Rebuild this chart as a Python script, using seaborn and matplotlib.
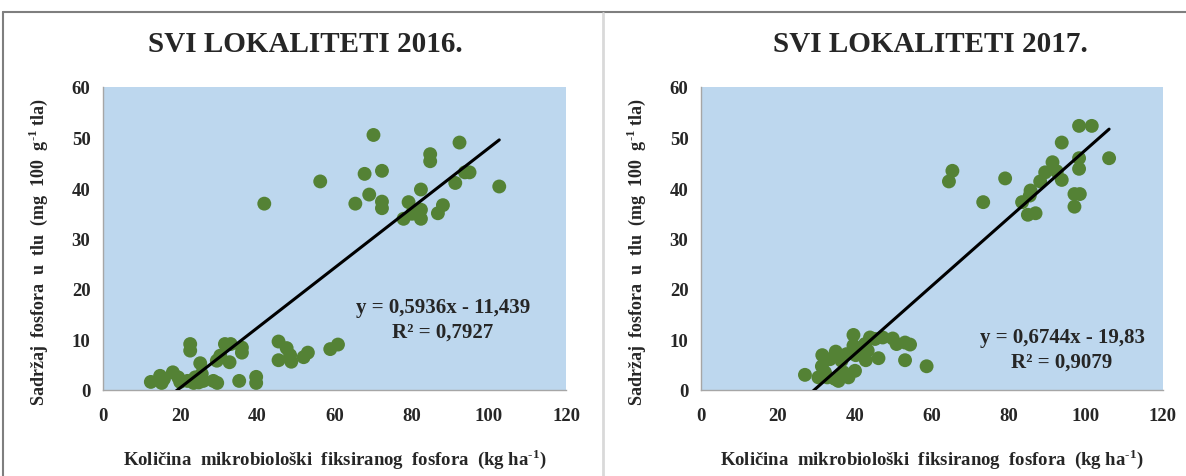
import numpy as np
import pandas as pd
import matplotlib
import matplotlib.pyplot as plt
from matplotlib.lines import Line2D
import seaborn as sns

matplotlib.use('Agg')

# ===========================================================
# DATA
# ===========================================================
x_2016 = [70.1, 92.4, 84.8, 84.8, 67.8, 72.3, 93.8, 95.0, 56.3, 102.7, 91.3, 82.4,
          41.8, 69.0, 65.4, 72.3, 72.3, 79.2, 82.4, 80.1, 77.9, 82.4, 86.8, 88.1,
          22.6, 22.6, 31.6, 33.1, 36.0, 36.0, 30.4, 29.5, 32.8, 25.2, 45.5, 47.6,
          48.5, 45.5, 48.8, 52.0, 53.1, 58.9, 60.9, 35.3, 39.7, 39.7, 12.4, 14.8,
          15.2, 15.8, 18.1, 19.5, 20.0, 21.9, 23.9, 23.5, 25.6, 26.0, 28.6, 29.6, 24.8]
y_2016 = [50.5, 49.0, 46.7, 45.3, 42.8, 43.4, 43.1, 43.1, 41.3, 40.3, 41.0, 39.7,
          36.9, 38.7, 36.9, 37.3, 36.0, 37.2, 35.7, 34.9, 33.9, 33.9, 35.0, 36.6,
          9.1, 7.8, 9.1, 9.1, 8.4, 7.4, 6.8, 5.8, 5.5, 5.3, 9.6, 8.3,
          6.9, 5.9, 5.6, 6.5, 7.4, 8.1, 9.0, 1.8, 2.6, 1.4, 1.6, 2.8,
          1.4, 2.2, 3.5, 2.5, 1.6, 1.8, 2.5, 1.4, 3.2, 1.8, 1.8, 1.4, 1.5]

x_2017 = [98.2, 101.5, 93.7, 98.2, 106.0, 91.3, 89.4, 92.4, 98.2, 65.3, 64.4, 79.0,
          88.1, 93.7, 85.6, 85.4, 83.4, 73.3, 97.0, 98.4, 97.0, 84.9, 86.9,
          39.6, 43.9, 47.2, 49.8, 50.8, 53.0, 54.3, 39.6, 42.6, 45.2, 43.3, 37.8,
          40.2, 35.0, 31.5, 33.5, 36.5, 42.8, 46.1, 53.0, 58.6, 31.4, 32.2, 27.0,
          30.5, 34.8, 35.7, 38.3, 40.0, 37.0, 32.8]
y_2017 = [52.3, 52.3, 49.0, 45.9, 45.9, 45.1, 43.1, 43.3, 43.8, 43.4, 41.3, 41.9,
          41.3, 41.6, 39.5, 38.5, 37.2, 37.2, 38.8, 38.8, 36.3, 34.7, 35.0,
          10.9, 10.4, 10.4, 10.2, 9.1, 9.4, 9.0, 8.8, 9.1, 10.1, 7.8, 7.1,
          6.9, 7.6, 6.9, 6.1, 5.8, 5.9, 6.3, 5.9, 4.7, 4.7, 3.5, 3.0,
          2.5, 2.2, 1.8, 2.5, 3.8, 3.5, 2.5]

# trendline coefficients (as printed on the chart)
slope_2016, icpt_2016, r2_2016 = 0.5936, -11.439, 0.7927
slope_2017, icpt_2017, r2_2017 = 0.6744, -19.83, 0.9079

titles = ['SVI LOKALITETI 2016.', 'SVI LOKALITETI 2017.']
eq_labels = ['y = 0,5936x - 11,439\nR² = 0,7927', 'y = 0,6744x - 19,83\nR² = 0,9079']
x_ticks = [0, 20, 40, 60, 80, 100, 120]
y_ticks = [0, 10, 20, 30, 40, 50, 60]

# ===========================================================
# STYLE
# ===========================================================
sns.set_theme(style='white')
plt.rcParams['font.family'] = ['Liberation Serif', 'DejaVu Serif']
plt.rcParams['font.weight'] = 'bold'
plt.rcParams['mathtext.fontset'] = 'custom'
plt.rcParams['mathtext.rm'] = 'Liberation Serif:bold'
plt.rcParams['mathtext.bf'] = 'Liberation Serif:bold'

BG     = '#BDD7EE'
GREEN  = '#548235'
AXCOL  = '#A6A6A6'

fig = plt.figure(figsize=(11.86, 4.77), dpi=100)
W, H = 1186, 477

ax_rects = [(103, 88, 463, 303), (701, 88, 462, 303)]
title_x = [305, 930]
eq_pos = [(443, 320), (1062, 350)]

panels = [(x_2016, y_2016, slope_2016, icpt_2016),
          (x_2017, y_2017, slope_2017, icpt_2017)]

for i, (xs, ys, b, a) in enumerate(panels):
    l, t, w, h = ax_rects[i]
    ax = fig.add_axes([l / W, 1 - (t + h) / H, w / W, h / H])
    ax.set_facecolor(BG)
    df = pd.DataFrame({'x': xs, 'y': ys})
    sns.scatterplot(data=df, x='x', y='y', ax=ax, color=GREEN, s=100,
                    edgecolor='none', zorder=3)
    # linear trendline across data range
    tx = np.array([min(xs), max(xs)])
    tr = pd.DataFrame({'x': tx, 'y': b * tx + a})
    sns.lineplot(data=tr, x='x', y='y', ax=ax, color='black', linewidth=2.2, zorder=4)
    ax.set_xlim(0, 120)
    ax.set_ylim(0, 60)
    ax.set_xticks(x_ticks)
    ax.set_yticks(y_ticks)
    ax.tick_params(axis='both', length=0, labelsize=13.5)
    ax.tick_params(axis='x', pad=12)
    ax.tick_params(axis='y', pad=9)
    for lab in ax.get_xticklabels() + ax.get_yticklabels():
        lab.set_fontweight('bold')
    for s in ['top', 'right']:
        ax.spines[s].set_visible(False)
    for s in ['left', 'bottom']:
        ax.spines[s].set_color(AXCOL)
        ax.spines[s].set_linewidth(1.0)
    ax.set_xlabel(r'Količina  mikrobiološki  fiksiranog  fosfora  (kg ha$^{\text{-1}}$)',
                  fontsize=13.5, fontweight='bold', labelpad=16)
    ax.set_ylabel(r'Sadržaj  fosfora  u  tlu  (mg  100  g$^{\text{-1}}$ tla)',
                  fontsize=13, fontweight='bold')
    ax.yaxis.set_label_coords(-0.115, 0.46)
    ex, ey = eq_pos[i]
    fig.text(ex / W, 1 - ey / H, eq_labels[i], ha='center', va='center',
             fontsize=15, fontweight='bold', linespacing=1.3)
    fig.text(title_x[i] / W, 1 - 45 / H, titles[i], ha='center', va='center',
             fontsize=21, fontweight='bold')

# chart frames
fig.add_artist(Line2D([3 / W, 1], [1 - 13 / H, 1 - 13 / H], color='#7F7F7F', lw=1.5))
fig.add_artist(Line2D([3 / W, 3 / W], [0, 1 - 13 / H], color='#7F7F7F', lw=1.5))
fig.add_artist(Line2D([603 / W, 603 / W], [0, 1 - 14 / H], color='#D9D9D9', lw=2))

plt.savefig('out.png', dpi=100)
